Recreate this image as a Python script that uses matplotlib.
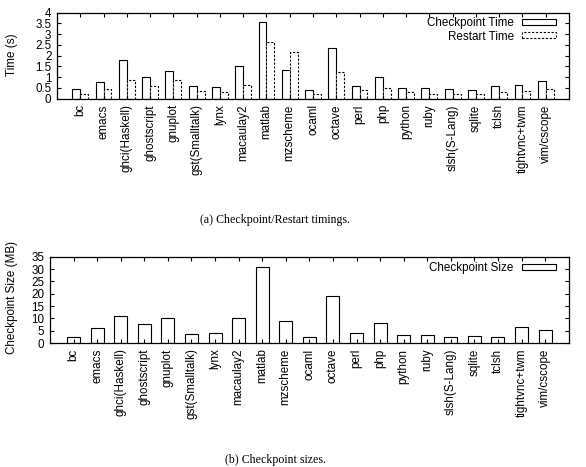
import matplotlib.pyplot as plt
import numpy as np

programs = ["bc", "emacs", "ghci(Haskell)", "ghostscript", "gnuplot", "gst(Smalltalk)",
            "lynx", "macaulay2", "matlab", "mzscheme", "ocaml", "octave", "perl", "php",
            "python", "ruby", "slsh(S-Lang)", "sqlite", "tclsh", "tightvnc+twm", "vim/cscope"]
checkpoint_time = [0.44, 0.76, 1.78, 0.99, 1.30, 0.57, 0.55, 1.50, 3.55, 1.32, 0.39,
                   2.37, 0.57, 1.01, 0.50, 0.48, 0.44, 0.42, 0.59, 0.65, 0.82]
restart_time = [0.20, 0.44, 0.85, 0.60, 0.85, 0.34, 0.30, 0.64, 2.62, 2.18, 0.23,
                1.25, 0.39, 0.51, 0.30, 0.23, 0.23, 0.23, 0.30, 0.37, 0.46]
checkpoint_size = [2.55, 5.95, 11.1, 7.8, 10.0, 3.65, 3.9, 10.0, 30.9, 8.8, 2.55,
                   19.1, 4.2, 8.1, 3.4, 3.4, 2.55, 2.84, 2.55, 6.4, 5.3]

plt.rcParams['font.family'] = ['Liberation Sans', 'DejaVu Sans']
plt.rcParams['font.size'] = 8.4

x = np.arange(len(programs))


def style_axes(ax):
	ax.set_xlim(-1, len(programs))
	ax.set_xticks(x)
	ax.set_xticklabels(programs, rotation=90)
	ax.tick_params(direction='in', top=True, right=True, length=3, width=0.8, pad=4)
	for s in ax.spines.values():
		s.set_linewidth(0.9)


fig = plt.figure(figsize=(5.86, 4.67), dpi=100)

# (a) timings
ax1 = fig.add_axes([0.0973, 0.7887, 0.8737, 0.1845])
w = 0.34
ax1.bar(x - w / 2, checkpoint_time, w, facecolor='white', edgecolor='black',
        linewidth=0.8, label="Checkpoint Time")
ax1.bar(x + w / 2, restart_time, w, facecolor='white', edgecolor='black',
        linewidth=0.8, linestyle=(0, (2, 1.5)), label="Restart Time")
style_axes(ax1)
ax1.set_ylim(0, 4)
ax1.set_yticks(np.arange(0, 4.01, 0.5))
ax1.set_yticklabels(["0", "0.5", "1", "1.5", "2", "2.5", "3", "3.5", "4"])
ax1.legend(loc='upper right', bbox_to_anchor=(0.975, 0.95), frameon=False,
           markerfirst=False, handlelength=2.9, handleheight=0.4, labelspacing=0.15,
           borderaxespad=0, borderpad=0, handletextpad=0.7)
fig.text(12.3 / 586, 1 - 55 / 467, "Time (s)", rotation=90, ha='center', va='center')
fig.text(275 / 586, 1 - 220 / 467, "(a) Checkpoint/Restart timings.",
         family='Liberation Serif', fontsize=8.6, ha='center', va='center')

# (b) sizes
ax2 = fig.add_axes([0.0853, 0.2655, 0.8852, 0.1848])
ax2.bar(x, checkpoint_size, 0.55, facecolor='white', edgecolor='black',
        linewidth=0.8, label="Checkpoint Size")
style_axes(ax2)
ax2.set_ylim(0, 35)
ax2.set_yticks(np.arange(0, 36, 5))
ax2.legend(loc='upper right', bbox_to_anchor=(0.975, 0.94), frameon=False,
           markerfirst=False, handlelength=2.9, handleheight=0.4,
           borderaxespad=0, borderpad=0, handletextpad=0.7)
fig.text(12.3 / 586, 1 - 298 / 467, "Checkpoint Size (MB)", rotation=90, ha='center', va='center')
fig.text(275 / 586, 1.5 / 467, "(b) Checkpoint sizes.",
         family='Liberation Serif', fontsize=8.6, ha='center', va='bottom')

fig.savefig("out.png", dpi=100)
